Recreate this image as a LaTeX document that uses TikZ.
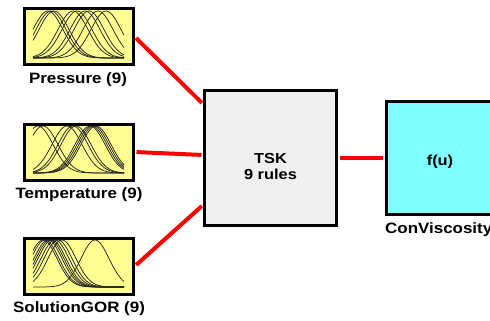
\documentclass[tikz,border=0pt]{standalone}
\usepackage{fontspec}
\setmainfont{Liberation Sans}
\newfontfamily\labfont[FakeStretch=1.13]{Liberation Sans}
\definecolor{fisyellow}{RGB}{255,255,145}
\definecolor{rulegray}{RGB}{240,240,240}
\definecolor{outcyan}{RGB}{128,255,255}
\tikzset{
  inbox/.style={draw=black, line width=3pt, fill=fisyellow, minimum width=109pt, minimum height=56pt, inner sep=0pt},
  mainbox/.style={draw=black, line width=3pt, inner sep=0pt, align=center,
    font=\labfont\bfseries\fontsize{14.5}{16}\selectfont},
  mf/.style={line width=0.75pt, black!85},
  lab/.style={font=\labfont\bfseries\fontsize{15}{17}\selectfont, inner sep=0pt},
  link/.style={red, line width=4pt, shorten <=1.5pt, shorten >=1.5pt},
}
\newcommand\mfcurves[2]{%
  \foreach \c in {#1} {%
    \draw[mf] plot[domain=-46:45, samples=60, smooth]
      (\x, {21-47*exp(max(-20,-((\x-\c)*(\x-\c))/(2*#2*#2)))});
  }%
}
\begin{document}
\begin{tikzpicture}[x=1pt, y=-1pt]
\useasboundingbox (0,0) rectangle (490,321);
\fill[white] (0,0) rectangle (490,321);

% input boxes
\node[inbox] (p) at (79,37) {};
\node[inbox] (tp) at (79,152) {};
\node[inbox] (g) at (79,266) {};

\begin{scope}[shift={(p.center)}]
  \mfcurves{-31,-28,-25,-6,-2,6,10,19,27}{15}
\end{scope}
\begin{scope}[shift={(tp.center)}]
  \mfcurves{-41,-36,-12,-6,-3,11,13,15,17}{15}
\end{scope}
\begin{scope}[shift={(g.center)}]
  \mfcurves{-36,-34,-31,-29,-27,-24,-21,-17,16}{14}
\end{scope}

% labels
\node[lab] (pl) at (78,80) {Pressure (9)};
\node[lab] (tl) at (79,195) {Temperature (9)};
\node[lab] (gl) at (79,309) {SolutionGOR (9)};

% rule block and output
\node[mainbox, fill=rulegray, minimum width=132pt, minimum height=135pt] (t) at (270.5,158)
  {\raisebox{-21pt}[0pt][0pt]{\parbox[b]{90pt}{\centering TSK\\9 rules}}};
\node[mainbox, fill=outcyan, minimum width=108pt, minimum height=113pt] (f) at (440,158)
  {\raisebox{-7pt}[0pt][0pt]{f(u)}};
\node[lab, anchor=west] (fl) at (385,230) {ConViscosity};

% connectors
\draw[link] (p.east) -- ([yshift=54pt]t.west);
\draw[link] (tp.east) -- ([yshift=3pt]t.west);
\draw[link] (g.east) -- ([yshift=-47pt]t.west);
\draw[link] (t.east) -- (f.west);
\end{tikzpicture}
\end{document}
